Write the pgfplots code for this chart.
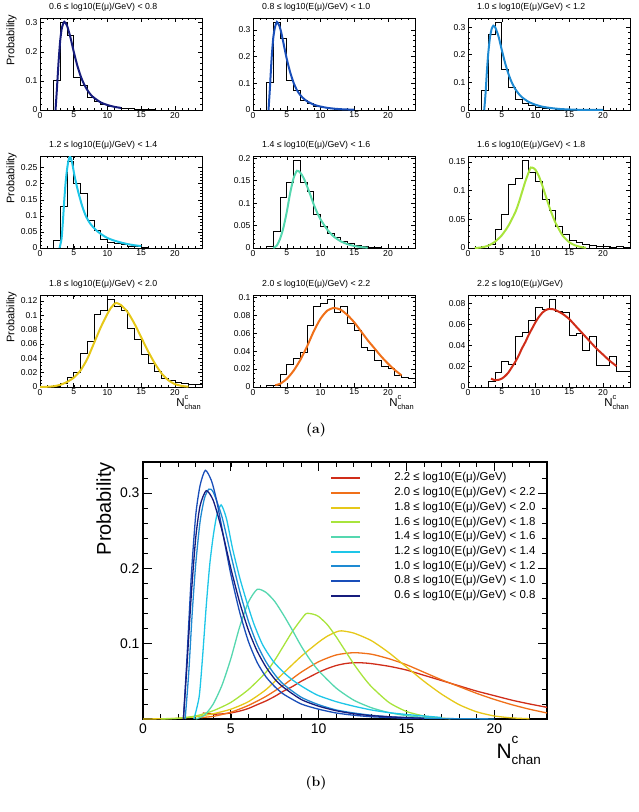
\documentclass[border=0pt]{standalone}
\usepackage{pgfplots}
\pgfplotsset{compat=1.18}
\usepackage{pgfplotstable}
\usepackage{fontspec}
\newfontfamily\helv{Liberation Sans}

\definecolor{cA}{RGB}{22,28,125}
\definecolor{cB}{RGB}{25,78,185}
\definecolor{cC}{RGB}{30,138,210}
\definecolor{cD}{RGB}{30,198,232}
\definecolor{cE}{RGB}{85,215,175}
\definecolor{cF}{RGB}{168,228,60}
\definecolor{cG}{RGB}{230,200,25}
\definecolor{cH}{RGB}{240,112,25}
\definecolor{cI}{RGB}{208,45,25}

% fitted curves
\pgfplotstableread{
x y
2.3 0
2.5 0.07
2.75 0.165
3.0 0.24
3.25 0.283
3.6 0.303
4.0 0.29
4.5 0.25
5.0 0.20
5.5 0.155
6.0 0.118
6.5 0.09
7.0 0.069
7.5 0.053
8.0 0.042
9.0 0.026
10 0.017
11 0.011
12 0.007
13 0.0045
14 0.003
15 0.0018
16 0.001
}\curveA
\pgfplotstableread{
x y
2.3 0
2.5 0.08
2.75 0.19
3.0 0.27
3.25 0.31
3.55 0.33
3.9 0.316
4.2 0.289
4.6 0.24
5.0 0.192
5.5 0.142
6.0 0.103
6.5 0.075
7.0 0.056
7.5 0.043
8.0 0.033
9.0 0.02
10 0.013
11 0.008
12 0.005
13 0.003
14 0.002
15 0.001
16 0.0005
}\curveB
\pgfplotstableread{
x y
2.4 0
2.6 0.06
2.8 0.14
3.0 0.205
3.25 0.262
3.5 0.293
3.75 0.305
4.0 0.301
4.5 0.268
5.0 0.218
5.5 0.17
6.0 0.13
6.5 0.099
7.0 0.076
7.5 0.059
8.0 0.046
9.0 0.029
10 0.019
11 0.012
12 0.008
13 0.005
14 0.003
15 0.002
16 0.001
18 0.0004
20 0.0001
}\curveC
\pgfplotstableread{
x y
2.9 0
3.2 0.03
3.4 0.085
3.6 0.15
3.8 0.205
4.0 0.243
4.2 0.27
4.45 0.284
4.75 0.266
5.1 0.226
5.5 0.188
5.9 0.156
6.3 0.127
6.8 0.099
7.4 0.077
8.0 0.062
8.5 0.052
9.0 0.044
9.5 0.037
10 0.031
11 0.023
12 0.017
13 0.012
14 0.0085
15 0.006
16 0.004
17 0.002
}\curveD
\pgfplotstableread{
x y
3.0 0
3.5 0.005
4.0 0.02
4.5 0.045
5.0 0.08
5.5 0.122
6.0 0.155
6.5 0.172
7.0 0.168
7.5 0.156
8.0 0.138
8.5 0.118
9.0 0.097
9.5 0.079
10 0.064
11 0.041
12 0.025
13 0.015
14 0.0085
15 0.0045
16 0.002
17 0.0008
}\curveE
\pgfplotstableread{
x y
1 0
2 0.001
3 0.004
4 0.011
5 0.022
6 0.039
7 0.062
7.5 0.078
8 0.097
8.5 0.116
9 0.132
9.3 0.140
9.7 0.139
10 0.136
10.5 0.125
11 0.109
11.5 0.091
12 0.073
12.5 0.057
13 0.043
14 0.022
15 0.010
16 0.004
17 0.0012
17.5 0.0004
}\curveF
\pgfplotstableread{
x y
0 0
1 0.0003
2 0.001
3 0.003
4 0.007
5 0.013
6 0.023
7 0.039
8 0.061
9 0.083
10 0.102
10.5 0.110
11 0.1155
11.3 0.117
12 0.114
13 0.104
14 0.088
15 0.069
16 0.05
17 0.033
18 0.019
19 0.0095
20 0.004
21 0.0015
22 0.0004
}\curveG
\pgfplotstableread{
x y
3.3 0.002
4 0.0035
5 0.009
6 0.018
7 0.030
8 0.045
9 0.062
10 0.076
11 0.085
12 0.088
13 0.086
14 0.080
15 0.072
16 0.062
17 0.052
18 0.043
19 0.034
20 0.026
21 0.019
22 0.013
23 0.008
}\curveH
\pgfplotstableread{
x y
3.4 0.008
4.0 0.0065
4.5 0.0068
5 0.008
5.5 0.0105
6 0.014
6.5 0.019
7 0.024
7.5 0.030
8 0.037
8.5 0.043
9 0.050
9.5 0.056
10 0.062
10.5 0.067
11 0.071
11.5 0.0735
12 0.0747
12.5 0.0745
13 0.0735
14 0.070
15 0.065
16 0.058
17 0.051
18 0.044
19 0.037
20 0.031
21 0.025
22 0.020
23 0.0155
}\curveI

\newcommand{\nchanS}{N\rlap{\raisebox{7.5bp}{\fontsize{7.5}{8}\selectfont c}}\raisebox{-3bp}{\fontsize{7.5}{8}\selectfont chan}}
\newcommand{\nchanL}{N\rlap{\raisebox{15bp}{\fontsize{13.5}{14}\selectfont c}}\raisebox{-6bp}{\fontsize{13.5}{14}\selectfont chan}}

\pgfplotsset{
  common/.style={
    scale only axis,
    scaled y ticks=false,
    tick align=inside,
    tick pos=both,
    /pgf/number format/fixed,
    /pgf/number format/precision=2,
    /pgf/number format/assume math mode=true,
    every tick/.style={black},
  },
  panel/.style={
    common,
    width=162bp, height=92bp,
    xmin=0, xmax=24, ymin=0,
    xtick={0,5,10,15,20},
    minor xtick={0,1,...,24},
    minor y tick num=4,
    axis line style={line width=0.8bp},
    every major tick/.append style={line width=0.5bp},
    every minor tick/.append style={line width=0.4bp},
    major tick length=4bp, minor tick length=2bp,
    ticklabel style={font=\helv\fontsize{8.6}{9.5}\selectfont},
    xticklabel style={yshift=1.5bp},
    yticklabel style={xshift=1bp},
    title style={at={(axis description cs:0,1)}, anchor=base west, xshift=9bp, yshift=3bp, inner sep=0pt, font=\helv\fontsize{8.8}{9.5}\selectfont},
    ylabel style={at={(axis description cs:-0.175,1.04)}, anchor=east, inner sep=0pt, font=\helv\fontsize{11}{12}\selectfont},
    xlabel style={at={(axis description cs:1,0)}, anchor=base east, xshift=-1bp, yshift=-19.5bp, inner sep=0pt, font=\helv\fontsize{11.5}{12}\selectfont},
  },
  hist/.style={black, line width=0.8bp, const plot},
  fit/.style={line width=2bp, smooth, tension=0.4},
  mfit/.style={line width=1.3bp, smooth, tension=0.4},
}

\begin{document}
\begin{tikzpicture}
\useasboundingbox (0bp,0bp) rectangle (639bp,-812bp);

% ---------------- row 1 ----------------
\begin{axis}[panel, at={(40bp,-110bp)}, anchor=south west, ymax=0.316,
  ytick={0,0.1,0.2,0.3},
  title={0.6 ≤ log10(E(μ)/GeV) < 0.8}, ylabel={Probability}]
\addplot[hist] coordinates {(0,0) (2,0.1) (3,0.3) (4,0.256) (5,0.111) (6,0.085) (7,0.045) (8,0.03) (9,0.02) (10,0.013) (11,0.009) (12,0.004) (13,0.004) (14,0.003) (15,0.002) (16,0.002) (17,0)};
\addplot[fit, cA, restrict x to domain=2:12] table {\curveA};
\end{axis}

\begin{axis}[panel, at={(253bp,-110bp)}, anchor=south west, ymax=0.345,
  ytick={0,0.1,0.2,0.3},
  title={0.8 ≤ log10(E(μ)/GeV) < 1.0}]
\addplot[hist] coordinates {(0,0) (2,0.102) (3,0.328) (4,0.27) (5,0.112) (6,0.074) (7,0.037) (8,0.025) (9,0.015) (10,0.01) (11,0.006) (12,0.004) (13,0.003) (14,0.002) (15,0)};
\addplot[fit, cB, restrict x to domain=2:15] table {\curveB};
\end{axis}

\begin{axis}[panel, at={(468bp,-110bp)}, anchor=south west, ymax=0.333,
  ytick={0,0.1,0.2,0.3},
  title={1.0 ≤ log10(E(μ)/GeV) < 1.2}]
\addplot[hist] coordinates {(0,0) (2,0.071) (3,0.275) (4,0.317) (5,0.148) (6,0.083) (7,0.039) (8,0.024) (9,0.015) (10,0.01) (11,0.006) (12,0.004) (13,0.003) (14,0.002) (15,0.002) (16,0.001) (17,0.001) (18,0.001) (19,0.001) (20,0)};
\addplot[fit, cC, restrict x to domain=2:20] table {\curveC};
\end{axis}

% ---------------- row 2 ----------------
\begin{axis}[panel, at={(40bp,-248bp)}, anchor=south west, ymax=0.286,
  ytick={0,0.05,0.1,0.15,0.2,0.25},
  title={1.2 ≤ log10(E(μ)/GeV) < 1.4}, ylabel={Probability}]
\addplot[hist] coordinates {(0,0) (2,0.023) (3,0.13) (4,0.268) (5,0.2) (6,0.169) (7,0.087) (8,0.055) (9,0.027) (10,0.018) (11,0.013) (12,0.01) (13,0.005) (14,0.004) (15,0.002) (16,0)};
\addplot[fit, cD, restrict x to domain=2:15.2] table {\curveD};
\end{axis}

\begin{axis}[panel, at={(253bp,-248bp)}, anchor=south west, ymax=0.205,
  ytick={0,0.05,0.1,0.15,0.2},
  title={1.4 ≤ log10(E(μ)/GeV) < 1.6}]
\addplot[hist] coordinates {(0,0) (2,0.004) (3,0.037) (4,0.112) (5,0.147) (6,0.195) (7,0.147) (8,0.127) (9,0.074) (10,0.048) (11,0.033) (12,0.024) (13,0.015) (14,0.01) (15,0.006) (16,0.004) (17,0.002) (18,0.001) (19,0)};
\addplot[fit, cE, restrict x to domain=2:17] table {\curveE};
\end{axis}

\begin{axis}[panel, at={(468bp,-248bp)}, anchor=south west, ymax=0.16,
  ytick={0,0.05,0.1,0.15},
  title={1.6 ≤ log10(E(μ)/GeV) < 1.8}]
\addplot[hist] coordinates {(0,0) (2,0.002) (3,0.006) (4,0.033) (5,0.059) (6,0.11) (7,0.121) (8,0.152) (9,0.132) (10,0.116) (11,0.085) (12,0.066) (13,0.037) (14,0.023) (15,0.014) (16,0.009) (17,0.006) (18,0.004) (19,0.003) (20,0.002) (21,0.001) (22,0.002) (23,0.001) (24,0.001)};
\addplot[fit, cF, restrict x to domain=0:17.5] table {\curveF};
\end{axis}

% ---------------- row 3 ----------------
\begin{axis}[panel, at={(40bp,-387bp)}, anchor=south west, ymax=0.128,
  ytick={0,0.02,0.04,0.06,0.08,0.1,0.12}, minor y tick num=3,
  title={1.8 ≤ log10(E(μ)/GeV) < 2.0}, ylabel={Probability}, xlabel={\nchanS}]
\addplot[hist] coordinates {(0,0) (2,0.001) (3,0.005) (4,0.014) (5,0.02) (6,0.047) (7,0.063) (8,0.101) (9,0.107) (10,0.122) (11,0.112) (12,0.107) (13,0.081) (14,0.066) (15,0.045) (16,0.033) (17,0.022) (18,0.012) (19,0.009) (20,0.0064) (21,0.0046) (22,0.003) (23,0.003) (24,0.003)};
\addplot[fit, cG, restrict x to domain=0:22] table {\curveG};
\end{axis}

\begin{axis}[panel, at={(253bp,-387bp)}, anchor=south west, ymax=0.1024,
  ytick={0,0.02,0.04,0.06,0.08,0.1}, minor y tick num=3,
  title={2.0 ≤ log10(E(μ)/GeV) < 2.2}, xlabel={\nchanS}]
\addplot[hist] coordinates {(0,0) (2,0.0015) (3,0.002) (4,0.0135) (5,0.0255) (6,0.032) (7,0.039) (8,0.069) (9,0.09) (10,0.093) (11,0.0975) (12,0.083) (13,0.09) (14,0.071) (15,0.063) (16,0.044) (17,0.041) (18,0.03) (19,0.023) (20,0.021) (21,0.0124) (22,0.011) (23,0.0099) (24,0.0099)};
\addplot[fit, cH, restrict x to domain=3:22.7] table {\curveH};
\end{axis}

\begin{axis}[panel, at={(468bp,-387bp)}, anchor=south west, ymax=0.088,
  ytick={0,0.02,0.04,0.06,0.08}, minor y tick num=3,
  title={2.2 ≤ log10(E(μ)/GeV)}, xlabel={\nchanS}]
\addplot[hist] coordinates {(0,0) (3,0.0057) (4,0.014) (5,0.0245) (6,0.0215) (7,0.048) (8,0.052) (9,0.0635) (10,0.0765) (11,0.074) (12,0.084) (13,0.0725) (14,0.071) (15,0.0495) (16,0.051) (17,0.035) (18,0.048) (19,0.0205) (20,0.0205) (21,0.029) (22,0.0145) (23,0.0145) (24,0.0145)};
\addplot[fit, cI, restrict x to domain=3:22.7] table {\curveI};
\end{axis}

\node[font=\fontsize{14}{16}\selectfont\bfseries] at (316bp,-430bp) {(a)};

% ---------------- main plot ----------------
\begin{axis}[common, at={(143bp,-719bp)}, anchor=south west,
  width=404bp, height=257bp,
  xmin=0, xmax=23, ymin=0, ymax=0.341,
  xtick={0,5,10,15,20}, minor xtick={0,1,...,23},
  ytick={0.1,0.2,0.3},
  minor ytick={0.02,0.04,0.06,0.08,0.12,0.14,0.16,0.18,0.22,0.24,0.26,0.28,0.32},
  axis line style={line width=1.1bp},
  every major tick/.append style={line width=0.8bp},
  every minor tick/.append style={line width=0.6bp},
  major tick length=9bp, minor tick length=5bp,
  ticklabel style={font=\helv\fontsize{14}{16}\selectfont},
  xticklabel style={yshift=-1bp},
  ylabel={Probability},
  ylabel style={at={(axis description cs:-0.092,1.0)}, anchor=east, inner sep=0pt, font=\helv\fontsize{20}{22}\selectfont},
  xlabel={\nchanL},
  xlabel style={at={(axis description cs:1,0)}, anchor=base east, xshift=-6bp, yshift=-39bp, inner sep=0pt, font=\helv\fontsize{21}{23}\selectfont},
  legend cell align=left,
  legend image code/.code={\draw[#1, line width=2bp] (0bp,0bp) -- (29bp,0bp); \path[draw=none, fill=none] (0bp,0bp) -- (62bp,0bp);},
  legend style={at={(0.463,0.962)}, anchor=north west, draw=none, fill=none, inner sep=0pt,
    font=\helv\fontsize{11.5}{13}\selectfont,
    nodes={inner sep=1bp, text height=8bp, text depth=2.5bp}, row sep=2.2bp},
]
\addplot[mfit, cI] table {\curveI};
\addlegendentry{2.2 ≤ log10(E(μ)/GeV)}
\addplot[mfit, cH] table {\curveH};
\addlegendentry{2.0 ≤ log10(E(μ)/GeV) < 2.2}
\addplot[mfit, cG] table {\curveG};
\addlegendentry{1.8 ≤ log10(E(μ)/GeV) < 2.0}
\addplot[mfit, cF] table {\curveF};
\addlegendentry{1.6 ≤ log10(E(μ)/GeV) < 1.8}
\addplot[mfit, cE] table {\curveE};
\addlegendentry{1.4 ≤ log10(E(μ)/GeV) < 1.6}
\addplot[mfit, cD] table {\curveD};
\addlegendentry{1.2 ≤ log10(E(μ)/GeV) < 1.4}
\addplot[mfit, cC] table {\curveC};
\addlegendentry{1.0 ≤ log10(E(μ)/GeV) < 1.2}
\addplot[mfit, cB] table {\curveB};
\addlegendentry{0.8 ≤ log10(E(μ)/GeV) < 1.0}
\addplot[mfit, cA] table {\curveA};
\addlegendentry{0.6 ≤ log10(E(μ)/GeV) < 0.8}
\end{axis}

\node[font=\fontsize{14}{16}\selectfont\bfseries] at (316bp,-783bp) {(b)};
\end{tikzpicture}
\end{document}
